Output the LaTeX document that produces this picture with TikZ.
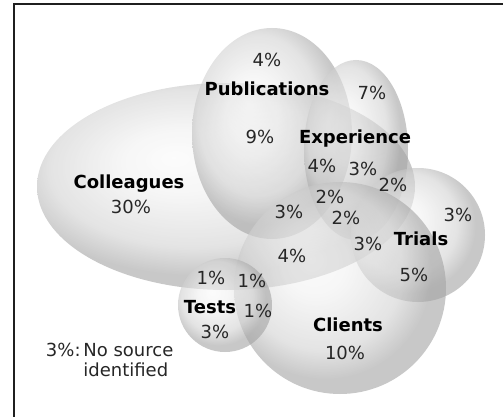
\documentclass[tikz,border=0pt]{standalone}
\usepackage{fontspec}
\setmainfont{DejaVu Sans}
\pgfdeclareradialshading{vennshade}{\pgfpoint{-7bp}{7bp}}{color(0bp)=(white!98!black); color(8bp)=(white!94!black); color(19bp)=(white!82!black); color(25bp)=(white!64!black); color(50bp)=(white!64!black)}
\begin{document}
\begin{tikzpicture}[x=0.5pt,y=-0.5pt,
  vset/.style={shading=vennshade, fill opacity=0.6},
  lab/.style={font=\fontsize{9}{11}\selectfont, text=black!85, inner sep=0pt},
  ttl/.style={font=\fontsize{9}{11}\selectfont\bfseries, text=black, inner sep=0pt},
  frame/.style={line width=1pt, draw=black!88}]
\useasboundingbox (0,0) rectangle (503,417);
% frame (top and left edges)
\coordinate (fb) at (14,417);
\coordinate (fc) at (14,4.5);
\coordinate (fr) at (503,4.5);
\draw[frame] (fb) -- (fc) -- (fr);
% set centres
\coordinate (col) at (226,186.5);
\coordinate (pub) at (272,133.5);
\coordinate (exp) at (356,150);
\coordinate (tri) at (418,235);
\coordinate (cli) at (340,288);
\coordinate (tes) at (225,305);
% sets
\shade[vset] (col) ellipse [x radius=189, y radius=103.5];
\shade[vset] (pub) ellipse [x radius=80, y radius=105.5];
\shade[vset] (exp) ellipse [x radius=52, y radius=90];
\shade[vset] (tri) circle [radius=67];
\shade[vset] (cli) circle [radius=106];
\shade[vset] (tes) circle [radius=47];
% labels
\node[lab] (p4) at (267,60) {4\%};
\node[ttl] (publ) at (267,89) {Publications};
\node[lab] (e7) at (372,93) {7\%};
\node[lab] (p9) at (260,137) {9\%};
\node[ttl,anchor=base] (expl) at (355,143) {Experience};
\node[lab] (x4) at (322,166) {4\%};
\node[lab] (x3) at (363,169) {3\%};
\node[lab] (x2a) at (393,185) {2\%};
\node[ttl] (coll) at (129,184) {Colleagues};
\node[lab] (c30) at (131,207) {30\%};
\node[lab] (x2b) at (330,197) {2\%};
\node[lab] (pc3) at (289,212) {3\%};
\node[lab] (x2c) at (346,218) {2\%};
\node[lab] (t3) at (458,215) {3\%};
\node[ttl] (tril) at (421,239) {Trials};
\node[lab] (tc3) at (368,244) {3\%};
\node[lab] (cc4) at (292,256) {4\%};
\node[lab] (t5) at (414,275) {5\%};
\node[lab] (s1a) at (211,278) {1\%};
\node[lab] (s1b) at (252,281) {1\%};
\node[ttl] (tesl) at (210,307) {Tests};
\node[lab] (s1c) at (258,311) {1\%};
\node[lab] (s3) at (215,332) {3\%};
\node[ttl] (clil) at (348,325) {Clients};
\node[lab] (c10) at (345,353) {10\%};
\node[lab,anchor=east] (ns3) at (81,350) {3\%:};
\node[lab,anchor=north west,align=left,font=\fontsize{9}{10}\selectfont] (nsrc) at (83,343) {No source\\identified};
\end{tikzpicture}
\end{document}
